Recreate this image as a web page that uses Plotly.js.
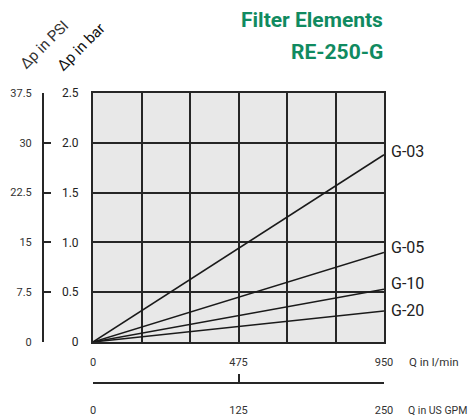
<!DOCTYPE html>
<html><head><meta charset="utf-8">
<script src="https://cdn.plot.ly/plotly-3.0.1.min.js"></script>
<style>html,body{margin:0;padding:0;background:#fff}</style>
</head><body><div id="chart" style="width:468px;height:418px"></div>
<script>
// Data
const flowLmin = [0, 950];
const seriesNames = ["G-03", "G-05", "G-10", "G-20"];
const dpG03 = [0, 1.88];
const dpG05 = [0, 0.90];
const dpG10 = [0, 0.53];
const dpG20 = [0, 0.31];
const xTickVals = [0, 158.33, 316.67, 475, 633.33, 791.67, 950];
const xTickText = ["0", "", "", "475", "", "", "950"];
const barTicks = [0, 0.5, 1.0, 1.5, 2.0, 2.5];
const barTickText = ["0", "0.5", "1.0", "1.5", "2.0", "2.5"];
const psiTicks = [0, 7.5, 15, 22.5, 30, 37.5];
const psiTickText = ["0", "7.5", "15", "22.5", "30", "37.5"];
const gpmTicks = [0, 125, 250];
const gpmTickText = ["0", "125", "250"];
const labelShift = [3, 5, 6, 1];

const allSeries = [dpG03, dpG05, dpG10, dpG20];
const FONT = "Roboto, Arial, sans-serif";
const TXT = "#333";

const traces = allSeries.map((s, i) => ({
  x: flowLmin, y: s, type: "scatter", mode: "lines",
  line: {color: "#1a1a1a", width: 1.5}, name: seriesNames[i],
  showlegend: false, hoverinfo: "skip", xaxis: "x", yaxis: "y"
}));
traces.push({x: [0], y: [0], xaxis: "x2", yaxis: "y", mode: "markers", marker: {opacity: 0}, showlegend: false, hoverinfo: "skip"});
traces.push({x: [0], y: [0], xaxis: "x", yaxis: "y2", mode: "markers", marker: {opacity: 0}, showlegend: false, hoverinfo: "skip"});

const dY = 41 / 290;
const dX = 50 / 341;

const annotations = allSeries.map((s, i) => ({
  x: 950, y: s[s.length - 1], xref: "x", yref: "y", text: seriesNames[i],
  showarrow: false, xanchor: "left", yanchor: "middle", xshift: 5, yshift: labelShift[i],
  font: {family: FONT, size: 16, color: "#222"}
}));
annotations.push(
  {x: 1, y: 1, xref: "paper", yref: "paper", text: "<b>Filter Elements</b>", showarrow: false,
   xanchor: "right", yanchor: "middle", yshift: 73, xshift: 1, font: {family: FONT, size: 21, color: "#108a60"}},
  {x: 1, y: 1, xref: "paper", yref: "paper", text: "<b>RE-250-G</b>", showarrow: false,
   xanchor: "right", yanchor: "middle", yshift: 41, xshift: 1, font: {family: FONT, size: 21, color: "#108a60"}},
  {x: 0, y: 1, xref: "paper", yref: "paper", text: "Δp in PSI", showarrow: false, textangle: -45,
   xanchor: "center", yanchor: "middle", xshift: 1, yshift: 48, font: {family: FONT, size: 15, color: TXT}},
  {x: 0, y: 1, xref: "paper", yref: "paper", text: "Δp in bar", showarrow: false, textangle: -45,
   xanchor: "center", yanchor: "middle", xshift: 38, yshift: 46, font: {family: FONT, size: 15, color: "#111"}},
  {x: 1, y: dY, xref: "paper", yref: "paper", text: "Q in l/min", showarrow: false,
   xanchor: "left", yanchor: "middle", xshift: 23, yshift: -20, font: {family: FONT, size: 11.5, color: TXT}},
  {x: 1, y: 0, xref: "paper", yref: "paper", text: "Q in US GPM", showarrow: false,
   xanchor: "left", yanchor: "middle", xshift: 22, yshift: -27, font: {family: FONT, size: 10.5, color: TXT}}
);

const layout = {
  width: 468, height: 418,
  margin: {l: 43, r: 84, t: 93, b: 35},
  paper_bgcolor: "#fff", plot_bgcolor: "#e8e8e8",
  font: {family: FONT, size: 11, color: TXT},
  showlegend: false,
  xaxis: {
    domain: [dX, 1], range: [0, 950], anchor: "y",
    tickvals: xTickVals, ticktext: xTickText, ticks: "",
    showgrid: true, gridcolor: "#262626", gridwidth: 2,
    showline: true, linecolor: "#262626", linewidth: 2, mirror: true,
    zeroline: false, ticklabelstandoff: 9, tickfont: {family: FONT, size: 11, color: TXT}
  },
  yaxis: {
    domain: [dY, 1], range: [0, 2.5], anchor: "x",
    tickvals: barTicks, ticktext: barTickText, ticks: "",
    showgrid: true, gridcolor: "#262626", gridwidth: 2,
    showline: true, linecolor: "#262626", linewidth: 2, mirror: true,
    zeroline: false, ticklabelstandoff: 10, tickfont: {family: FONT, size: 12, color: "#222"}
  },
  xaxis2: {
    domain: [dX, 1], range: [0, 250], anchor: "free", position: 0, overlaying: "x", side: "bottom",
    tickvals: gpmTicks, ticktext: gpmTickText, ticks: "inside", ticklen: 8, tickwidth: 2, tickcolor: "#262626",
    showgrid: false, showline: true, linecolor: "#262626", linewidth: 2, zeroline: false,
    ticklabelstandoff: 17, tickfont: {family: FONT, size: 11, color: TXT}
  },
  yaxis2: {
    domain: [dY, 1], range: [0, 37.5], anchor: "free", position: 0, overlaying: "y", side: "left",
    tickvals: psiTicks, ticktext: psiTickText, ticks: "inside", ticklen: 7, tickwidth: 2, tickcolor: "#262626",
    showgrid: false, showline: true, linecolor: "#262626", linewidth: 2, zeroline: false,
    ticklabelstandoff: 8, tickfont: {family: FONT, size: 11, color: TXT}
  },
  annotations: annotations
};

Plotly.newPlot("chart", traces, layout, {displayModeBar: false, staticPlot: true});
</script></body></html>
